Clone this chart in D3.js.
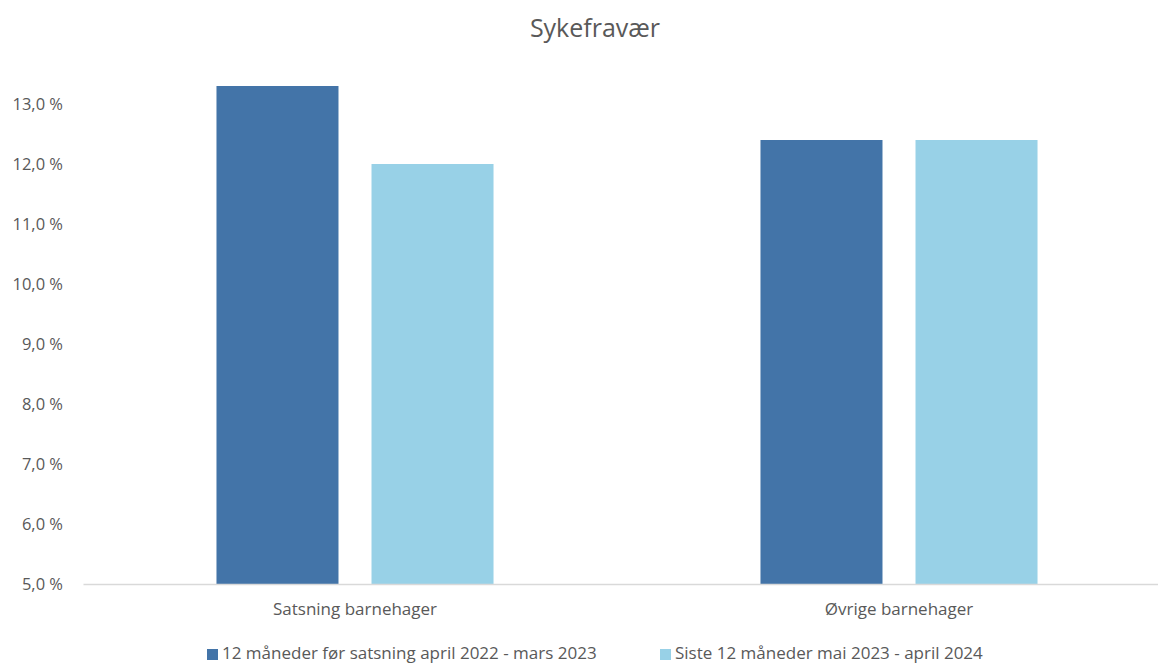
<!DOCTYPE html>
<html>
<head>
<meta charset="utf-8">
<script src="https://cdn.jsdelivr.net/npm/d3@7"></script>
<style>
  html, body { margin: 0; padding: 0; background: #fff; }
  svg { display: block; font-family: "Open Sans", "Liberation Sans", sans-serif; }
</style>
</head>
<body>
<svg id="chart" width="1158" height="664"></svg>
<script>
const title = "Sykefravær";
const categories = ["Satsning barnehager", "Øvrige barnehager"];
const seriesNames = ["12 måneder før satsning april 2022 - mars 2023", "Siste 12 måneder mai 2023 - april 2024"];
const seriesBefore = [13.3, 12.4];
const seriesAfter = [12.0, 12.4];
const yTicks = [5, 6, 7, 8, 9, 10, 11, 12, 13];
const colors = ["#4374a8", "#98d1e7"];

const svg = d3.select("#chart");

const x0 = d3.scaleBand().domain(categories).range([83, 1171]).padding(0);
const x1 = d3.scaleBand().domain(d3.range(2)).range([0, x0.bandwidth()])
  .paddingInner(0.213).paddingOuter(0.861);
const y = d3.scaleLinear().domain([5, 13]).range([584, 104]);

const fmt = v => d3.format(".1f")(v).replace(".", ",") + "\u00a0%";

// title
svg.append("text").attr("x", 595).attr("y", 37).attr("text-anchor", "middle")
  .attr("font-size", 25).attr("fill", "#595959").text(title);

// y axis labels
const yAxis = d3.axisLeft(y).tickValues(yTicks).tickFormat(fmt).tickSize(0).tickPadding(0);
const gy = svg.append("g").attr("transform", "translate(63,0)").call(yAxis);
gy.select(".domain").remove();
gy.selectAll("text").attr("font-size", 16.5).attr("fill", "#595959")
  .attr("font-family", "'Open Sans', sans-serif");

// bars
const data = categories.map((c, i) => ({ cat: c, vals: [seriesBefore[i], seriesAfter[i]] }));
const groups = svg.append("g").selectAll("g").data(data).join("g")
  .attr("transform", d => `translate(${x0(d.cat)},0)`);
groups.selectAll("rect").data(d => d.vals.map((v, k) => ({ v, k }))).join("rect")
  .attr("x", d => x1(d.k)).attr("width", x1.bandwidth())
  .attr("y", d => y(d.v)).attr("height", d => y(5) - y(d.v))
  .attr("fill", d => colors[d.k]);

// x axis
const xAxis = d3.axisBottom(x0).tickSize(0).tickPadding(0);
const gx = svg.append("g").attr("transform", "translate(0,584)").call(xAxis);
gx.select(".domain").attr("stroke", "#d9d9d9").attr("stroke-width", 1.3);
gx.selectAll("text").attr("font-size", 17).attr("fill", "#595959")
  .attr("dy", "0").attr("y", 31)
  .attr("font-family", "'Open Sans', sans-serif");

// legend
const legX = [207, 660];
const leg = svg.append("g").selectAll("g").data(seriesNames).join("g")
  .attr("transform", (d, i) => `translate(${legX[i]},0)`);
leg.append("rect").attr("x", 0).attr("y", 649).attr("width", 11).attr("height", 11)
  .attr("fill", (d, i) => colors[i]);
leg.append("text").attr("x", 15).attr("y", 659).attr("font-size", 17)
  .attr("fill", "#595959").attr("font-family", "'Open Sans', sans-serif")
  .text(d => d);
</script>
</body>
</html>
